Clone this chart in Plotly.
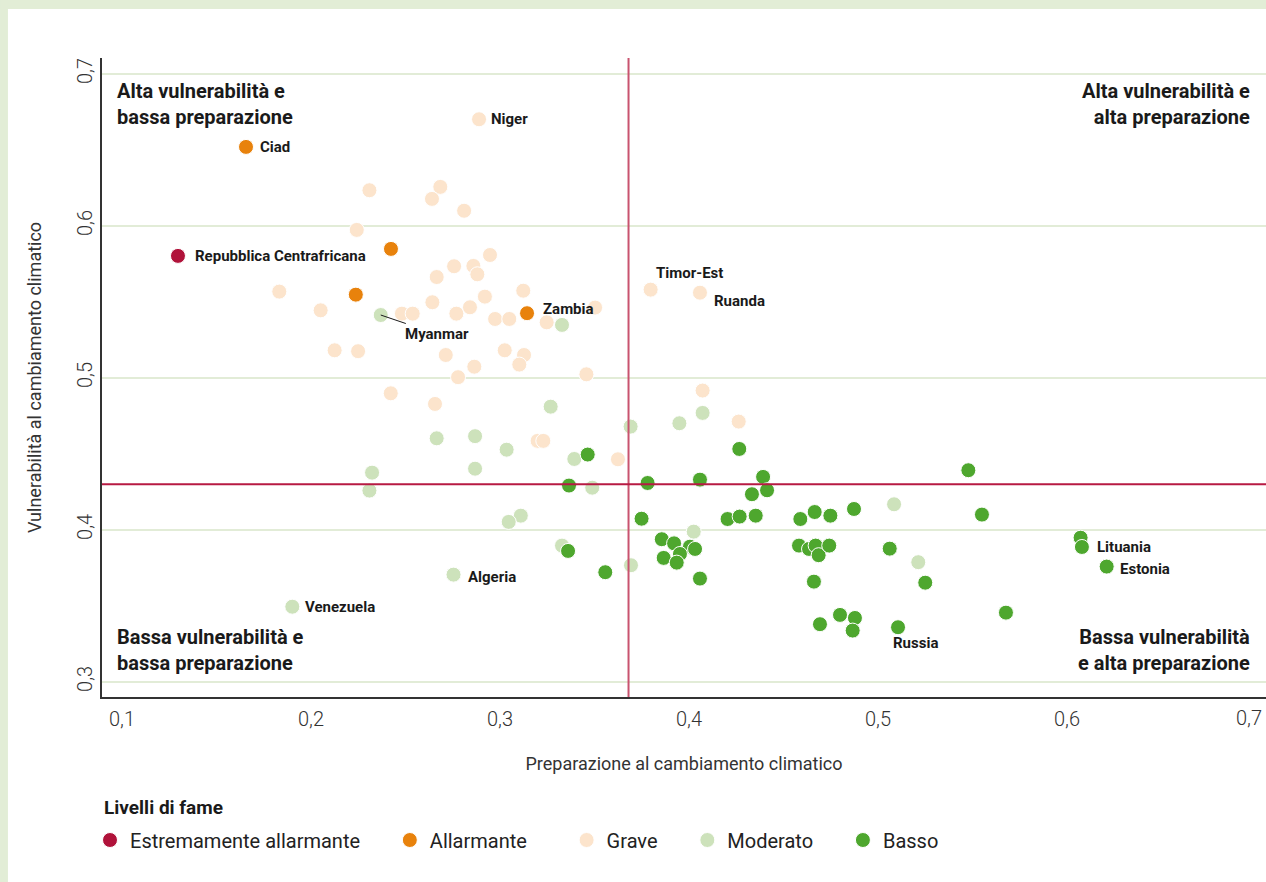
import plotly.graph_objects as go

# ---------------- data ----------------
categories = ["Estremamente allarmante", "Allarmante", "Grave", "Moderato", "Basso"]
colors = {"Estremamente allarmante": "#b0123a", "Allarmante": "#e8820c",
          "Grave": "#fce4cc", "Moderato": "#cde2bb", "Basso": "#4ea72e"}

x_estremo = [0.1296]
y_estremo = [0.5803]
n_estremo = ["Repubblica Centrafricana"]

x_allarmante = [0.1656, 0.2423, 0.2237, 0.3143]
y_allarmante = [0.6520, 0.5849, 0.5548, 0.5426]
n_allarmante = ["Ciad", "", "", "Zambia"]

x_grave = [0.2889, 0.2309, 0.2684, 0.2640, 0.2810, 0.2242, 0.2947, 0.2757, 0.2665, 0.2859,
           0.2880, 0.1832, 0.3123, 0.2920, 0.2051, 0.2481, 0.2538, 0.2642, 0.2769, 0.2841,
           0.2974, 0.3049, 0.3247, 0.3503, 0.2125, 0.2249, 0.2713, 0.3025, 0.3127, 0.3102,
           0.2864, 0.2778, 0.3457, 0.2422, 0.2656, 0.3199, 0.3229, 0.3624, 0.3797, 0.4058,
           0.4072, 0.4263]
y_grave = [0.6702, 0.6235, 0.6257, 0.6178, 0.6100, 0.5974, 0.5809, 0.5735, 0.5664, 0.5737,
           0.5682, 0.5568, 0.5574, 0.5535, 0.5445, 0.5423, 0.5423, 0.5498, 0.5423, 0.5465,
           0.5388, 0.5388, 0.5366, 0.5463, 0.5182, 0.5176, 0.5151, 0.5182, 0.5151, 0.5088,
           0.5074, 0.5005, 0.5024, 0.4899, 0.4829, 0.4586, 0.4586, 0.4465, 0.5581, 0.5561,
           0.4917, 0.4713]
n_grave = ["Niger"] + [""] * 37 + ["Timor-Est", "Ruanda", "", ""]

x_moderato = [0.2369, 0.3328, 0.3268, 0.3691, 0.2665, 0.2868, 0.3035, 0.3393, 0.3949, 0.4072,
              0.2323, 0.2868, 0.2309, 0.3488, 0.3110, 0.3046, 0.3328, 0.3693, 0.4025, 0.2754,
              0.1901, 0.5085, 0.5213]
y_moderato = [0.5414, 0.5349, 0.4811, 0.4680, 0.4603, 0.4617, 0.4528, 0.4467, 0.4702, 0.4770,
              0.4377, 0.4403, 0.4259, 0.4278, 0.4094, 0.4053, 0.3897, 0.3768, 0.3989, 0.3706,
              0.3495, 0.4169, 0.3788]
n_moderato = ["Myanmar"] + [""] * 18 + ["Algeria", "Venezuela", "", ""]

x_basso = [0.3464, 0.3365, 0.3360, 0.3557, 0.3781, 0.4058, 0.4266, 0.4392, 0.4413, 0.4333,
           0.3749, 0.4204, 0.4268, 0.4353, 0.4589, 0.4665, 0.4748, 0.4873, 0.5478, 0.5550,
           0.3856, 0.3921, 0.4005, 0.4032, 0.3952, 0.3866, 0.3935, 0.4058, 0.4582, 0.4635,
           0.4670, 0.4686, 0.4742, 0.5062, 0.4661, 0.5250, 0.4799, 0.4878, 0.4693, 0.4866,
           0.5106, 0.5677, 0.6072, 0.6079, 0.6210]
y_basso = [0.4496, 0.4292, 0.3862, 0.3722, 0.4309, 0.4331, 0.4533, 0.4349, 0.4261, 0.4235,
           0.4074, 0.4072, 0.4088, 0.4094, 0.4072, 0.4118, 0.4094, 0.4138, 0.4393, 0.4101,
           0.3939, 0.3912, 0.3890, 0.3875, 0.3842, 0.3816, 0.3785, 0.3680, 0.3897, 0.3875,
           0.3897, 0.3834, 0.3897, 0.3877, 0.3660, 0.3653, 0.3441, 0.3421, 0.3380, 0.3338,
           0.3360, 0.3456, 0.3949, 0.3888, 0.3759]
n_basso = [""] * 40 + ["Russia", "", "", "Lituania", "Estonia"]

x_ticks = [0.1, 0.2, 0.3, 0.4, 0.5, 0.6]
x_tick_labels = ["0,1", "0,2", "0,3", "0,4", "0,5", "0,6"]
x_last_tick = [0.7]
x_last_label = ["0,7"]
y_ticks = [0.3, 0.4, 0.5, 0.6, 0.7]
y_tick_labels = ["0,3", "0,4", "0,5", "0,6", "0,7"]

soglia_preparazione = 0.368
soglia_vulnerabilita = 0.430

series = {
    "Estremamente allarmante": (x_estremo, y_estremo, n_estremo),
    "Allarmante": (x_allarmante, y_allarmante, n_allarmante),
    "Grave": (x_grave, y_grave, n_grave),
    "Moderato": (x_moderato, y_moderato, n_moderato),
    "Basso": (x_basso, y_basso, n_basso),
}

# label placement (pixel offsets)
label_style = {
    "Niger": dict(xshift=10, yshift=0),
    "Ciad": dict(xshift=12, yshift=0),
    "Repubblica Centrafricana": dict(xshift=15, yshift=0),
    "Zambia": dict(xshift=14, yshift=4),
    "Timor-Est": dict(xshift=3, yshift=17),
    "Ruanda": dict(xshift=12, yshift=-8),
    "Algeria": dict(xshift=12, yshift=-2),
    "Venezuela": dict(xshift=11, yshift=0),
    "Russia": dict(xshift=-7, yshift=-16),
    "Lituania": dict(xshift=13, yshift=0),
    "Estonia": dict(xshift=11, yshift=-2),
}

LABEL_FONT = "Roboto, Liberation Sans, sans-serif"
TEXT_FONT = "Roboto, Liberation Sans, sans-serif"

fig = go.Figure()

draw_order = ["Moderato", "Grave", "Basso", "Allarmante", "Estremamente allarmante"]
legend_pad = {"Estremamente allarmante": 5, "Allarmante": 7, "Grave": 5, "Moderato": 5, "Basso": 5}
for cat in draw_order:
    xs, ys, ns = series[cat]
    fig.add_trace(go.Scatter(
        x=xs, y=ys, mode="markers", name=cat + "\u00a0" * legend_pad[cat],
        legendrank=categories.index(cat) + 1,
        text=[n for n in ns], hovertemplate="%{text}<br>%{x}, %{y}<extra>" + cat + "</extra>",
        marker=dict(size=15, color=colors[cat], line=dict(color="white", width=1)),
    ))

# empty trace so that the overlaying axis carrying the last tick label is drawn
fig.add_trace(go.Scatter(x=[], y=[], xaxis="x2", yaxis="y", mode="markers",
                         showlegend=False, hoverinfo="skip"))

annotations = []
for cat in categories:
    xs, ys, ns = series[cat]
    for xv, yv, nm in zip(xs, ys, ns):
        if not nm:
            continue
        if nm == "Myanmar":
            annotations.append(dict(
                x=xv, y=yv, xref="x", yref="y", text="<b>" + nm + "</b>",
                showarrow=True, ax=56, ay=19, arrowhead=0, arrowwidth=1,
                arrowcolor="#1a1a1a", standoff=0,
                font=dict(family=LABEL_FONT, size=15, color="#1a1a1a")))
            continue
        st = label_style[nm]
        annotations.append(dict(
            x=xv, y=yv, xref="x", yref="y", text="<b>" + nm + "</b>",
            showarrow=False, xanchor="left", yanchor="middle",
            xshift=st["xshift"], yshift=st["yshift"],
            font=dict(family=LABEL_FONT, size=15, color="#1a1a1a")))

quad_font = dict(family=LABEL_FONT, size=20, color="#1a1a1a")
annotations += [
    dict(x=0.011, y=0.9707, xref="paper", yref="paper", xanchor="left", yanchor="top",
         align="left", showarrow=False, font=quad_font,
         text="<b>Alta vulnerabilità e<br>bassa preparazione</b>"),
    dict(x=0.988, y=0.9707, xref="paper", yref="paper", xanchor="right", yanchor="top",
         align="right", showarrow=False, font=quad_font,
         text="<b>Alta vulnerabilità e<br>alta preparazione</b>"),
    dict(x=0.011, y=0.0313, xref="paper", yref="paper", xanchor="left", yanchor="bottom",
         align="left", showarrow=False, font=quad_font,
         text="<b>Bassa vulnerabilità e<br>bassa preparazione</b>"),
    dict(x=0.988, y=0.0313, xref="paper", yref="paper", xanchor="right", yanchor="bottom",
         align="right", showarrow=False, font=quad_font,
         text="<b>Bassa vulnerabilità<br>e alta preparazione</b>"),
    dict(x=0.0, y=-0.1737, xref="paper", yref="paper", xanchor="left", yanchor="middle",
         showarrow=False, font=dict(family=LABEL_FONT, size=19, color="#1a1a1a"),
         text="<b>Livelli di fame</b>"),
]

frame = "#e2edd6"
shapes = [
    # outer light-green frame (top and left bands)
    dict(type="rect", xref="paper", yref="paper", x0=-0.0876, x1=1.0, y0=1.0767, y1=1.0908,
         fillcolor=frame, line=dict(width=0), layer="below"),
    dict(type="rect", xref="paper", yref="paper", x0=-0.0876, x1=-0.0808, y0=-0.2895, y1=1.0908,
         fillcolor=frame, line=dict(width=0), layer="below"),
    dict(type="line", xref="x", yref="paper", x0=soglia_preparazione, x1=soglia_preparazione,
         y0=0, y1=1, line=dict(color="#c9536f", width=2)),
    dict(type="line", xref="paper", yref="y", x0=0, x1=1, y0=soglia_vulnerabilita,
         y1=soglia_vulnerabilita, line=dict(color="#b71a43", width=2)),
]

x_range = [0.0894, 0.7053]
tick_font = dict(size=20, color="#333333", weight=300)

fig.update_layout(
    width=1266, height=882,
    margin=dict(l=102, r=0, t=58, b=185),
    paper_bgcolor="white", plot_bgcolor="white",
    font=dict(family=TEXT_FONT, color="#333333"),
    showlegend=True,
    legend=dict(orientation="h", x=-0.0103, xanchor="left", y=-0.2238, yanchor="middle",
                font=dict(family=TEXT_FONT, size=20, color="#222222"),
                itemclick=False, tracegroupgap=0),
    xaxis=dict(range=x_range, tickvals=x_ticks, ticktext=x_tick_labels,
               showgrid=False, zeroline=False, showline=True, linecolor="#333333",
               linewidth=1.5, ticks="", ticklabelstandoff=3, tickfont=tick_font,
               title=dict(text="Preparazione al cambiamento climatico", standoff=28,
                          font=dict(size=18, color="#333333"))),
    xaxis2=dict(range=x_range, overlaying="x", anchor="y", side="bottom",
                tickvals=x_last_tick, ticktext=x_last_label, ticklabelshift=-7,
                showgrid=False, zeroline=False, showline=False, ticks="",
                ticklabelstandoff=7, tickfont=tick_font),
    yaxis=dict(range=[0.2901, 0.7105], tickvals=y_ticks, ticktext=y_tick_labels,
               showgrid=True, gridcolor="#e2ecd7", gridwidth=1.5, zeroline=False,
               showline=True, linecolor="#333333", linewidth=1.5, ticks="",
               tickangle=-90, tickfont=tick_font,
               title=dict(text="Vulnerabilità al cambiamento climatico", standoff=27,
                          font=dict(size=18, color="#333333"))),
    annotations=annotations,
    shapes=shapes,
)

fig.write_html("out.html", config={"displayModeBar": False},
               post_script="document.body.style.margin='0';document.body.style.overflow='hidden';")
